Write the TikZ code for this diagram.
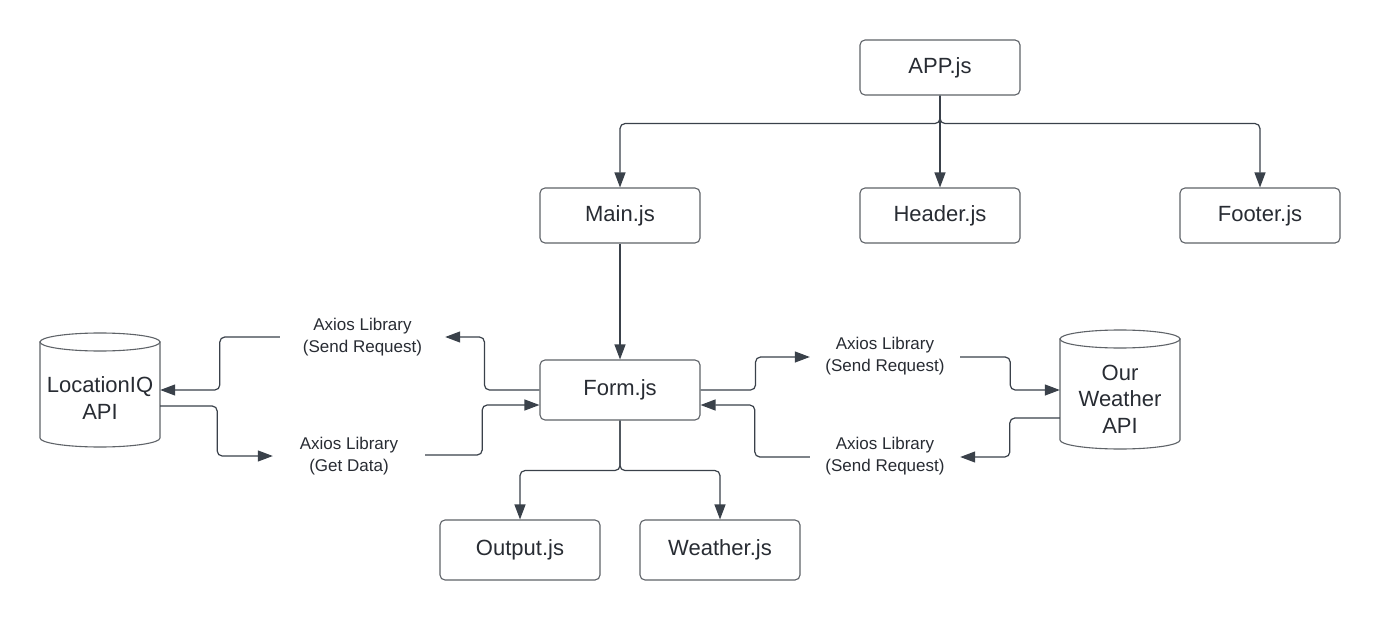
\documentclass[tikz,border=0pt]{standalone}
\usepackage{fontspec}
\setmainfont{Liberation Sans}
\usetikzlibrary{arrows.meta}
\definecolor{linec}{HTML}{3A414A}
\definecolor{boxc}{HTML}{5F6368}
\definecolor{txtc}{HTML}{282C33}
\tikzset{
  box/.style={draw=boxc, line width=1.1pt, rounded corners=5pt, fill=white,
    minimum width=160pt, minimum height=55pt, inner sep=0pt,
    text=txtc, font=\fontsize{22}{26}\selectfont},
  lbl/.style={inner sep=0pt, minimum height=44pt, align=center, text=txtc,
    font=\fontsize{17}{22.5}\selectfont},
  cyltext/.style={inner sep=0pt, minimum width=120pt, align=center, text=txtc,
    font=\fontsize{22}{26.5}\selectfont},
  cylline/.style={draw=boxc, line width=1.1pt, fill=white},
  conn/.style={draw=linec, line width=1.2pt, rounded corners=5pt,
    -{Triangle[length=15pt,width=11pt]}},
}
\begin{document}
\begin{tikzpicture}[x=1pt,y=-1pt]
\useasboundingbox[fill=white] (0,0) rectangle (1380,620);

% tree boxes
\node[box] (app) at (940,67.5) {APP.js};
\node[box] (main) at (620,215.5) {Main.js};
\node[box] (header) at (940,215.5) {Header.js};
\node[box] (footer) at (1260,215.5) {Footer.js};
\node[box, minimum height=60pt] (form) at (620,390) {Form.js};
\node[box, minimum height=60pt] (output) at (520,550) {Output.js};
\node[box, minimum height=60pt] (weather) at (720,550) {Weather.js};

% cylinders
\draw[cylline] (40,342) -- (40,438) arc[start angle=180, end angle=360, x radius=60pt, y radius=9pt] -- (160,342) -- cycle;
\draw[cylline] (100,342) ellipse [x radius=60pt, y radius=9pt];
\node[cyltext] (liq) at (100,398) {LocationIQ\\API};

\draw[cylline] (1060,339) -- (1060,440) arc[start angle=180, end angle=360, x radius=60pt, y radius=9pt] -- (1180,339) -- cycle;
\draw[cylline] (1120,339) ellipse [x radius=60pt, y radius=9pt];
\node[cyltext] (wapi) at (1120,399) {Our\\Weather\\API};

% labels
\node[lbl, minimum width=165pt] (lsr) at (362.5,337) {Axios Library\\(Send Request)};
\node[lbl, minimum width=152pt] (lgd) at (349,456) {Axios Library\\(Get Data)};
\node[lbl, minimum width=150pt] (rsr) at (885,356) {Axios Library\\(Send Request)};
\node[lbl, minimum width=150pt] (rgd) at (885,456) {Axios Library\\(Send Request)};

% tree connectors
\draw[conn] (app.south) -- ++(0,28) -| (main.north);
\draw[conn] (app.south) -- (header.north);
\draw[conn] (app.south) -- ++(0,28) -| (footer.north);
\draw[conn] (main.south) -- (form.north);
\draw[conn] (form.south) -- ++(0,50) -| (output.north);
\draw[conn] (form.south) -- ++(0,50) -| (weather.north);

% left side
\draw[conn] (form.west) -- ++(-55,0) |- (lsr.east);
\draw[conn] (lsr.west) -- ++(-60,0) |- ([yshift=8pt]liq.east);
\draw[conn] ([yshift=-8pt]liq.east) -- ++(57,0) |- (lgd.west);
\draw[conn] ([yshift=1pt]lgd.east) -- ++(57,0) |- ([yshift=-15pt]form.west);

% right side
\draw[conn] (form.east) -- ++(55,0) |- ([yshift=-1pt]rsr.west);
\draw[conn] ([yshift=-1pt]rsr.east) -- ++(50,0) |- ([yshift=9pt]wapi.west);
\draw[conn] ([yshift=-19pt]wapi.west) -- ++(-50,0) |- ([yshift=-1pt]rgd.east);
\draw[conn] ([yshift=-1pt]rgd.west) -- ++(-55,0) |- ([yshift=-15pt]form.east);
\end{tikzpicture}
\end{document}
